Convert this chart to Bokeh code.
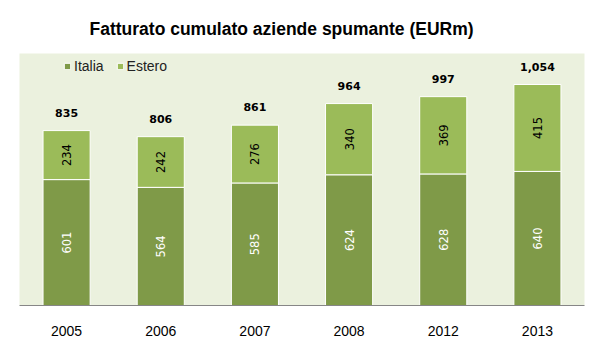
from bokeh.plotting import figure
from bokeh.models import ColumnDataSource, FactorRange, Range1d, Legend, LegendItem
from bokeh.core.properties import value
from bokeh.embed import file_html
from bokeh.resources import INLINE
import math

years = ["2005", "2006", "2007", "2008", "2012", "2013"]
italia = [601, 564, 585, 624, 628, 640]
estero = [234, 242, 276, 340, 369, 415]
totals = [835, 806, 861, 964, 997, 1054]

C_ITA = "#7F9A48"
C_EST = "#9BBB59"

src = ColumnDataSource(dict(
    year=years,
    italia=italia,
    estero=estero,
    top=[a + b for a, b in zip(italia, estero)],
    ita_mid=[a / 2 for a in italia],
    est_mid=[a + b / 2 for a, b in zip(italia, estero)],
    ita_lbl=[str(v) for v in italia],
    est_lbl=[str(v) for v in estero],
    tot_lbl=["{:,}".format(v) for v in totals],
    tot=totals,
))

p = figure(x_range=FactorRange(*years, range_padding=0), y_range=Range1d(0, 1203),
           width=602, height=350, output_backend="svg", toolbar_location=None,
           min_border_left=19, min_border_right=18, min_border_top=53, min_border_bottom=45)

p.title.text = "Fatturato cumulato aziende spumante (EURm)"
p.title.text_font = "Liberation Sans"
p.title.text_font_size = "17.5px"
p.title.text_font_style = "bold"
p.title.align = "left"
p.title.offset = 70
p.title.standoff = 29
p.title.text_color = "#000000"

p.background_fill_color = "#EBF1DE"
p.border_fill_color = "white"
p.outline_line_color = None
p.xgrid.grid_line_color = None
p.ygrid.grid_line_color = None
p.yaxis.visible = False

r1 = p.vbar(x="year", top="italia", bottom=0, width=0.5, source=src,
            fill_color=C_ITA, line_color="white", line_width=1)
r2 = p.vbar(x="year", top="top", bottom="italia", width=0.5, source=src,
            fill_color=C_EST, line_color="white", line_width=1)

p.text(x="year", y="ita_mid", text="ita_lbl", source=src, angle=math.pi / 2,
       text_align="center", text_baseline="middle", text_color="white",
       text_font=value("DejaVu Sans"), text_font_size="11.5px")
p.text(x="year", y="est_mid", text="est_lbl", source=src, angle=math.pi / 2,
       text_align="center", text_baseline="middle", text_color="black",
       text_font=value("DejaVu Sans"), text_font_size="11.5px")
p.text(x="year", y="tot", text="tot_lbl", source=src, y_offset=-18,
       text_align="center", text_baseline="middle", text_color="black",
       text_font=value("DejaVu Sans"), text_font_size="11px", text_font_style="bold")

ax = p.xaxis[0]
ax.axis_line_color = "#868686"
ax.major_tick_line_color = None
ax.minor_tick_line_color = None
ax.major_label_text_font = "Liberation Sans"
ax.major_label_text_font_size = "14px"
ax.major_label_text_color = "#000000"
ax.major_label_standoff = 14

legend = Legend(items=[LegendItem(label="Italia", renderers=[r1]),
                       LegendItem(label="Estero", renderers=[r2])],
                orientation="horizontal", location=(44, 231),
                glyph_width=8, glyph_height=8, label_standoff=3, spacing=12,
                padding=5, margin=0, background_fill_alpha=0, border_line_color=None,
                label_text_font="Liberation Sans", label_text_font_size="14px",
                label_text_color="#222222")
p.add_layout(legend, "center")

open("out.html", "w").write(file_html(p, INLINE))
